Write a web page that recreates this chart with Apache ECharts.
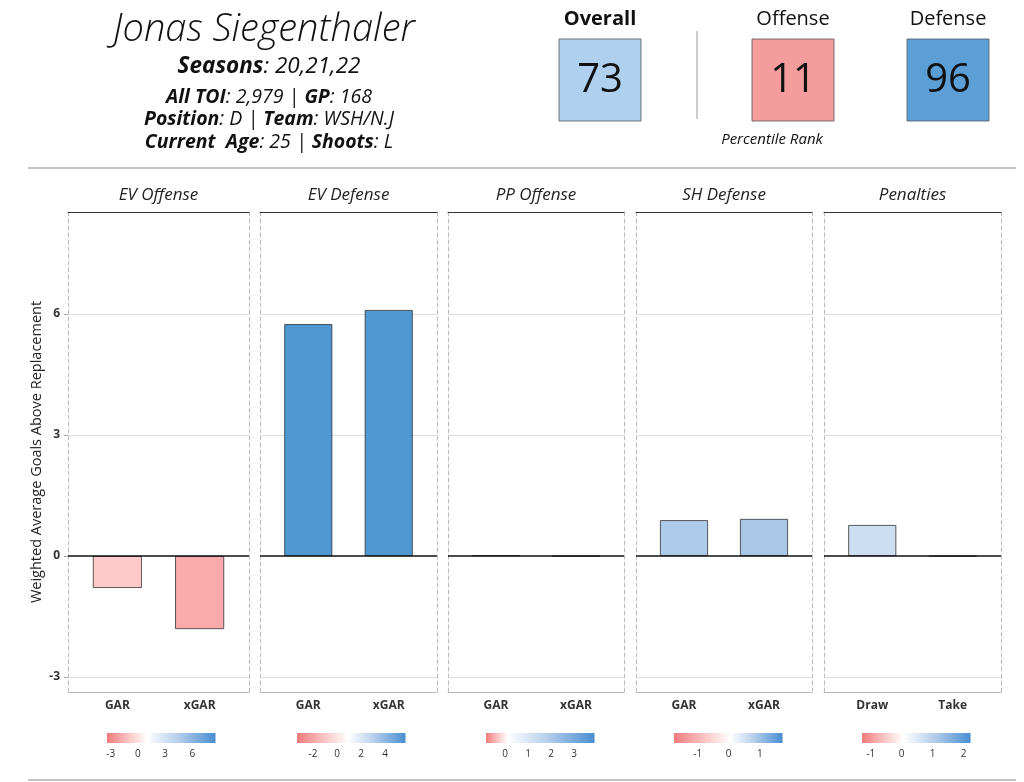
<!DOCTYPE html>
<html>
<head>
<meta charset="utf-8">
<script src="https://cdn.jsdelivr.net/npm/echarts@6/dist/echarts.min.js"></script>
<style>html,body{margin:0;padding:0;background:#fff}#c{width:1024px;height:782px}</style>
</head>
<body>
<div id="c"></div>
<script>
// ---- data ----
var playerName = 'Jonas Siegenthaler';
var seasons = '20,21,22';
var allTOI = '2,979';
var gamesPlayed = '168';
var position = 'D';
var team = 'WSH/N.J';
var currentAge = '25';
var shoots = 'L';
var rankLabels = ['Overall', 'Offense', 'Defense'];
var rankValues = [73, 11, 96];
var panelTitles = ['EV Offense', 'EV Defense', 'PP Offense', 'SH Defense', 'Penalties'];
var panelCategories = [['GAR', 'xGAR'], ['GAR', 'xGAR'], ['GAR', 'xGAR'], ['GAR', 'xGAR'], ['Draw', 'Take']];
var evOffense = [-0.79, -1.81];
var evDefense = [5.75, 6.10];
var ppOffense = [0.02, 0.0];
var shDefense = [0.89, 0.92];
var penalties = [0.77, 0.0];
var yTicks = [-3, 0, 3, 6];
var legendRanges = [[-3.4, 8.54], [-3.33, 5.7], [-0.83, 3.88], [-1.76, 1.73], [-1.28, 2.22]];
var legendTicks = [[-3, 0, 3, 6], [-2, 0, 2, 4], [0, 1, 2, 3], [-1, 0, 1], [-1, 0, 1, 2]];

// ---- styles ----
var panelValues = [evOffense, evDefense, ppOffense, shDefense, penalties];
var barColors = [['#FFC9C9', '#FBAAAB'], ['#4E99D3', '#4E99D3'], ['#F4F6FB', '#FFFFFF'], ['#AFCBEA', '#AAC7E8'], ['#CCDEF1', '#FFFFFF']];
var rankColors = ['#AFD0EE', '#F59C9C', '#5B9FD6'];
var legendWhite = [0.37, 0.47, 0.2, 0.52, 0.38];
var legendLeft = [107, 297, 486, 674, 862];
var panelLeft = [68, 260, 448, 636, 824];
var panelWidth = [181, 177, 176, 176, 177];
var yMin = -3.37, yMax = 8.53;
var FONT = '"Open Sans", "Noto Sans", sans-serif';

var chart = echarts.init(document.getElementById('c'));

var grids = [], xAxes = [], yAxes = [], series = [];
panelTitles.forEach(function (t, p) {
  grids.push({left: panelLeft[p], width: panelWidth[p], top: 212, height: 480});
  var gi = grids.length - 1;
  var cats = panelCategories[p];
  xAxes.push({
    type: 'value', gridIndex: gi, min: 0.4, max: 2.6, position: 'bottom',
    splitLine: {show: false},
    axisLine: {show: true, onZero: false, lineStyle: {color: '#BBBBBB', width: 1.2}},
    axisTick: {show: false},
    axisLabel: {
      customValues: [1, 2], margin: 8,
      formatter: function (v) { return cats[Math.round(v) - 1] || ''; },
      fontFamily: FONT, fontWeight: 'bold', fontSize: 12, color: '#333'
    }
  });
  var xb = xAxes.length - 1;
  xAxes.push({
    type: 'value', gridIndex: gi, min: 0.4, max: 2.6, position: 'top',
    splitLine: {show: false}, axisTick: {show: false}, axisLabel: {show: false},
    axisLine: {show: true, onZero: false, lineStyle: {color: '#333', width: 1}}
  });
  yAxes.push({
    type: 'value', gridIndex: gi, min: yMin, max: yMax, position: 'left',
    splitLine: {show: false},
    axisLine: {show: true, onZero: false, lineStyle: {color: '#BBBBBB', type: [4, 3], width: 1}},
    axisTick: {show: p === 0, customValues: yTicks, length: 4, lineStyle: {color: '#AAAAAA'}},
    axisLabel: {
      show: p === 0, customValues: yTicks, margin: 8,
      fontFamily: FONT, fontWeight: 'bold', fontSize: 12, color: '#333'
    },
    name: p === 0 ? 'Weighted Average Goals Above Replacement' : '',
    nameLocation: 'middle', nameGap: 24, nameRotate: 90,
    nameTextStyle: {fontFamily: FONT, fontSize: 14.5, color: '#222'}
  });
  var yl = yAxes.length - 1;
  yAxes.push({
    type: 'value', gridIndex: gi, min: yMin, max: yMax, position: 'right',
    splitLine: {show: false}, axisTick: {show: false}, axisLabel: {show: false},
    axisLine: {show: true, onZero: false, lineStyle: {color: '#BBBBBB', type: [4, 3], width: 1}}
  });
  var vals = panelValues[p];
  series.push({
    type: 'bar', xAxisIndex: xb, yAxisIndex: yl, barWidth: Math.round(panelWidth[p] * 0.6 / 2.2), z: 3,
    data: vals.map(function (v, i) {
      return {value: [i + 1, v], itemStyle: {color: barColors[p][i], borderColor: '#333', borderWidth: 0.8}};
    }),
    markLine: {
      silent: true, symbol: 'none', label: {show: false}, z: 1,
      data: yTicks.filter(function (v) { return v !== 0; }).map(function (v) {
        return {yAxis: v, lineStyle: {color: '#DDDDDD', width: 1.2, type: 'solid'}};
      })
    }
  });
  series.push({
    type: 'line', xAxisIndex: xb, yAxisIndex: yl, data: [], z: 5,
    markLine: {
      silent: true, symbol: 'none', label: {show: false},
      data: [{yAxis: 0, lineStyle: {color: '#111', width: 1.6, type: 'solid'}}]
    }
  });
});

// colour legends
panelTitles.forEach(function (t, p) {
  grids.push({left: legendLeft[p], width: 108.5, top: 733, height: 10});
  var gi = grids.length - 1;
  var rng = legendRanges[p];
  xAxes.push({
    type: 'value', gridIndex: gi, min: rng[0], max: rng[1],
    splitLine: {show: false}, axisLine: {show: false},
    axisTick: {show: true, customValues: legendTicks[p], inside: true, length: 2, lineStyle: {color: '#FFFFFF', width: 1}},
    axisLabel: {customValues: legendTicks[p], margin: 6, fontFamily: FONT, fontSize: 10, color: '#333'}
  });
  yAxes.push({type: 'value', gridIndex: gi, min: 0, max: 1, show: false});
  var w = legendWhite[p];
  series.push({
    type: 'custom', xAxisIndex: xAxes.length - 1, yAxisIndex: yAxes.length - 1,
    data: [[rng[0], rng[1]]], z: 2,
    renderItem: function (params, api) {
      var a = api.coord([api.value(0), 0]);
      var b = api.coord([api.value(1), 1]);
      return {
        type: 'rect',
        shape: {x: a[0], y: b[1], width: b[0] - a[0], height: a[1] - b[1]},
        style: {
          fill: new echarts.graphic.LinearGradient(0, 0, 1, 0, [
            {offset: 0, color: '#F17B7B'},
            {offset: w * 0.55, color: '#FCC6C6'},
            {offset: w, color: '#FFFFFF'},
            {offset: w + (1 - w) * 0.45, color: '#B6CFEC'},
            {offset: 1, color: '#4A8ED0'}
          ])
        }
      };
    }
  });
});

var graphics = [];
function txt(x, y, text, font, extra) {
  graphics.push({type: 'text', x: x, y: y, style: Object.assign({text: text, font: font, fill: '#111', align: 'center', verticalAlign: 'middle'}, extra || {})});
}
txt(264, 30, playerName, 'italic 300 38px ' + FONT);
var richLine = {
  b: {fontFamily: FONT, fontStyle: 'italic', fontWeight: 'bold', fontSize: 19.5, fill: '#111'},
  i: {fontFamily: FONT, fontStyle: 'italic', fontWeight: 'normal', fontSize: 19.5, fill: '#111'},
  B: {fontFamily: FONT, fontStyle: 'italic', fontWeight: 'bold', fontSize: 22.5, fill: '#111'},
  I: {fontFamily: FONT, fontStyle: 'italic', fontWeight: 'normal', fontSize: 22.5, fill: '#111'}
};
function rtxt(y, text) {
  graphics.push({type: 'text', x: 269, y: y, style: {text: text, rich: richLine, align: 'center', verticalAlign: 'middle'}});
}
rtxt(67, '{B|Seasons}{I|: ' + seasons + '}');
rtxt(97, '{b|All TOI}{i|: ' + allTOI + ' | }{b|GP}{i|: ' + gamesPlayed + '}');
rtxt(119, '{b|Position}{i|: ' + position + ' | }{b|Team}{i|: ' + team + '}');
rtxt(142, '{b|Current  Age}{i|: ' + currentAge + ' | }{b|Shoots}{i|: ' + shoots + '}');

var boxX = [600, 793, 948];
rankLabels.forEach(function (l, i) {
  txt(boxX[i], 19, l, (i === 0 ? 'bold ' : '') + '20px ' + FONT);
  graphics.push({type: 'rect', shape: {x: boxX[i] - 41, y: 39, width: 82, height: 82},
    style: {fill: rankColors[i], stroke: '#555', lineWidth: 0.8}});
  txt(boxX[i], 81, String(rankValues[i]), '40px ' + FONT, {fill: '#111'});
});
graphics.push({type: 'line', shape: {x1: 697, y1: 31, x2: 697, y2: 119}, style: {stroke: '#AAAAAA', lineWidth: 1.2}});
txt(772, 140, 'Percentile Rank', 'italic 15px ' + FONT);
graphics.push({type: 'line', shape: {x1: 28, y1: 168, x2: 1016, y2: 168}, style: {stroke: '#C4C4C4', lineWidth: 2}});
graphics.push({type: 'line', shape: {x1: 28, y1: 780, x2: 1016, y2: 780}, style: {stroke: '#C4C4C4', lineWidth: 2}});
panelTitles.forEach(function (t, p) {
  txt(panelLeft[p] + panelWidth[p] / 2, 195, t, 'italic 17px ' + FONT, {fill: '#222'});
});

chart.setOption({
  animation: false,
  backgroundColor: '#fff',
  grid: grids, xAxis: xAxes, yAxis: yAxes, series: series,
  graphic: graphics
});
</script>
</body>
</html>
